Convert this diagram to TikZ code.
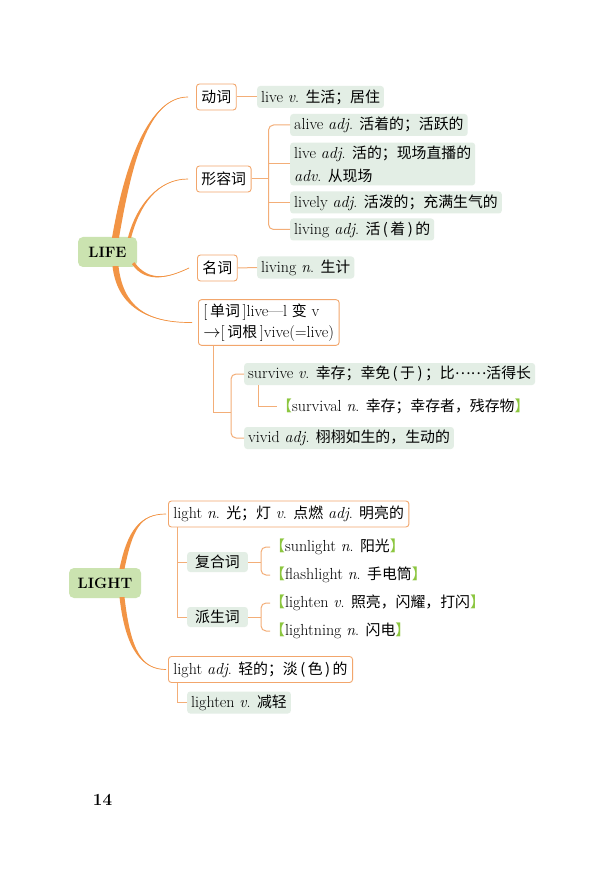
\documentclass[tikz,border=0pt]{standalone}
\usepackage{fontspec}
\newfontfamily\cjk{Noto Sans CJK SC}[Scale=0.93]
\usetikzlibrary{calc}
\definecolor{curveC}{HTML}{F29445}
\definecolor{lineC}{HTML}{F3AE78}
\definecolor{borderC}{HTML}{F2A66C}
\definecolor{leafC}{HTML}{E3EEE5}
\definecolor{rootC}{HTML}{CBE3B0}
\definecolor{brC}{HTML}{8CC63F}
\newcommand\zh[1]{{\cjk #1}}
\newcommand\gl{\textcolor{brC}{\zh{【}}}
\newcommand\gr{\textcolor{brC}{\zh{】}}}
\newcommand\pl{\,(\,}
\newcommand\pr{\,)\,}
\newcommand\taper[6]{%
  \fill[curveC] ($#1+(-#5,-#6)$) .. controls ($#2+(-#5,-#6)$) and #3 .. #4
     .. controls #3 and ($#2+(#5,#6)$) .. ($#1+(#5,#6)$) -- cycle;
  \draw[curveC, line width=0.7pt] #1 .. controls #2 and #3 .. #4;}
\begin{document}
\begin{tikzpicture}[x=1pt,y=-1pt,
  every node/.style={font=\fontsize{16}{19}\selectfont, text=black},
  catbox/.style={draw=borderC, line width=0.9pt, rounded corners=3pt, fill=white,
    minimum height=26pt, inner xsep=5pt, inner ysep=2pt, anchor=west},
  leafbox/.style={fill=leafC, rounded corners=3pt, minimum height=22pt,
    inner xsep=4pt, inner ysep=2pt, anchor=west},
  plain/.style={anchor=west, inner xsep=0pt},
  rootbox/.style={fill=rootC, rounded corners=5pt, font=\fontsize{15}{18}\selectfont\bfseries},
  conn/.style={draw=lineC, line width=1pt}
]
\fill[white] (0,0) rectangle (591,874);
\useasboundingbox (0,0) rectangle (591,874);

% ---------------- LIFE ----------------
\node[rootbox, minimum width=59pt, minimum height=30pt] (life) at (107.5,252) {LIFE};
\node[catbox] (verb) at (196,97) {\zh{动词}};
\node[leafbox] (live) at (257,97) {live \textit{v}. \zh{生活；居住}};
\node[catbox] (adj) at (196,179) {\zh{形容词}};
\node[leafbox] (alive) at (290,125) {alive \textit{adj}. \zh{活着的；活跃的}};
\node[leafbox, align=left, font=\fontsize{16}{23}\selectfont, inner ysep=3pt] (liveadj) at (290,164)
  {live \textit{adj}. \zh{活的；现场直播的}\\\textit{adv}. \zh{从现场}};
\node[leafbox] (lively) at (290,202.5) {lively \textit{adj}. \zh{活泼的；充满生气的}};
\node[leafbox] (living) at (290,229.5) {living \textit{adj}. \zh{活\pl 着\pr 的}};
\node[catbox] (noun) at (197,268) {\zh{名词}};
\node[leafbox] (livingn) at (257,267.5) {living \textit{n}. \zh{生计}};
\node[catbox, align=left, font=\fontsize{16}{21}\selectfont, inner ysep=4pt] (dan) at (198,322.5)
  {[\,\zh{单词}\,]live---l \zh{变} v\\$\rightarrow$[\,\zh{词根}\,]vive(=live)};
\node[leafbox] (survive) at (244,374) {survive \textit{v}. \zh{幸存；幸免\pl 于\pr；比\raisebox{0.3em}{……}活得长}};
\node[plain] (survival) at (277,406) {\gl survival \textit{n}. \zh{幸存；幸存者，残存物}\gr};
\node[leafbox] (vivid) at (244,438) {vivid \textit{adj}. \zh{栩栩如生的，生动的}};

\draw[conn] (verb.east) -- (live.west);
\coordinate (adjbr) at ($(adj.east)+(17,0)$);
\draw[conn] (adj.east) -- (adjbr);
\draw[conn, rounded corners=5pt] (alive.west) -| (adjbr) |- (living.west);
\draw[conn] (adjbr |- liveadj.west) -- (liveadj.west);
\draw[conn] (adjbr |- lively.west) -- (lively.west);
\draw[conn] (noun.east) -- (livingn.west);
\coordinate (danbr) at (231,412);
\draw[conn] ([xshift=15pt]dan.south west) |- (danbr);
\draw[conn, rounded corners=5pt] (survive.west) -| (danbr) |- (vivid.west);
\draw[conn] ([xshift=14pt]survive.south west) |- (survival.west);

\coordinate (s1) at ($(life.north)+(8,1)$);
\coordinate (e1) at ($(verb.west)+(-8,0)$);
\taper{(s1)}{(128,165)}{(148,97)}{(e1)}{3.5}{0}
\coordinate (s2) at ($(life.north)+(22,1)$);
\coordinate (e2) at ($(adj.west)+(-8,0)$);
\taper{(s2)}{(138,205)}{(158,179)}{(e2)}{1.6}{0}
\coordinate (s3) at ($(life.south east)+(-4,-4)$);
\coordinate (e3) at ($(noun.west)+(-8,0)$);
\taper{(s3)}{(148,284)}{(170,277)}{(e3)}{1.2}{-1}
\coordinate (s4) at ($(life.south)+(8,-1)$);
\coordinate (e4) at ($(dan.west)+(-6,0)$);
\taper{(s4)}{(120,305)}{(145,323)}{(e4)}{3}{0}

% ---------------- LIGHT ----------------
\node[rootbox, minimum width=72pt, minimum height=30pt] (light) at (105,583) {LIGHT};
\node[catbox] (lightn) at (168,514) {light \textit{n}. \zh{光；灯} \textit{v}. \zh{点燃} \textit{adj}. \zh{明亮的}};
\node[leafbox, minimum height=20pt, inner xsep=8pt] (fuhe) at (187,562) {\zh{复合词}};
\node[leafbox, minimum height=20pt, inner xsep=8pt] (pai) at (187,617) {\zh{派生词}};
\node[plain] (sun) at (270,547) {\gl sunlight \textit{n}. \zh{阳光}\gr};
\node[plain] (flash) at (270,575) {\gl flashlight \textit{n}. \zh{手电筒}\gr};
\node[plain] (lighten) at (270,603) {\gl lighten \textit{v}. \zh{照亮，闪耀，打闪}\gr};
\node[plain] (lightning) at (270,631) {\gl lightning \textit{n}. \zh{闪电}\gr};
\node[catbox] (lightadj) at (168,669.5) {light \textit{adj}. \zh{轻的；淡\pl 色\pr 的}};
\node[leafbox] (lighten2) at (187,702.5) {lighten \textit{v}. \zh{减轻}};

\coordinate (ltrunk) at ([xshift=9pt]lightn.south west);
\draw[conn] (ltrunk) |- (pai.west);
\draw[conn] (ltrunk |- fuhe.west) -- (fuhe.west);
\coordinate (fubr) at ($(fuhe.east)+(13,0)$);
\draw[conn] (fuhe.east) -- (fubr);
\draw[conn, rounded corners=5pt] (sun.west) -| (fubr) |- (flash.west);
\coordinate (paibr) at ($(pai.east)+(13,0)$);
\draw[conn] (pai.east) -- (paibr);
\draw[conn, rounded corners=5pt] (lighten.west) -| (paibr) |- (lightning.west);
\draw[conn] ([xshift=9pt]lightadj.south west) |- (lighten2.west);

\coordinate (s5) at ($(light.north)+(17,1)$);
\coordinate (e5) at ($(lightn.west)+(-2,0)$);
\taper{(s5)}{(130,530)}{(140,514)}{(e5)}{2.5}{0}
\coordinate (s6) at ($(light.south)+(17,-1)$);
\coordinate (e6) at ($(lightadj.west)+(-2,0)$);
\taper{(s6)}{(128,650)}{(142,669.5)}{(e6)}{2.5}{0}

\node[font=\fontsize{17}{20}\selectfont\bfseries] (page) at (102.5,800) {14};
\end{tikzpicture}
\end{document}
